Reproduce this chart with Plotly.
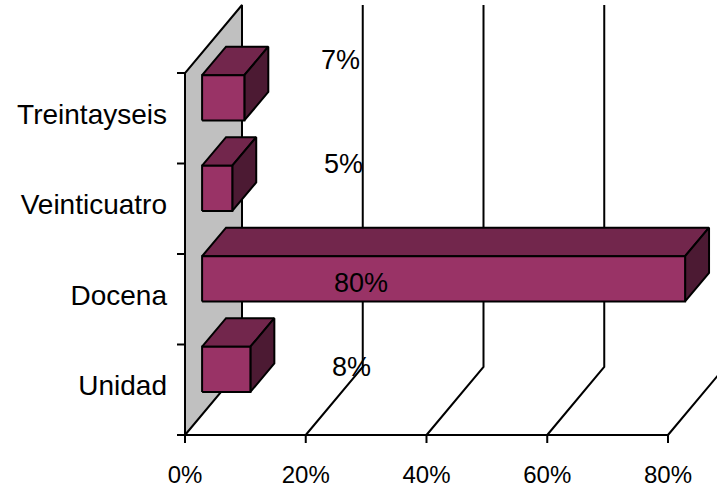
import plotly.graph_objects as go

# ---------------- data ----------------
categories = ["Unidad", "Docena", "Veinticuatro", "Treintayseis"]
values = [8, 80, 5, 7]
value_labels = ["8%", "80%", "5%", "7%"]
x_ticks = [0, 20, 40, 60, 80]
x_tick_labels = ["0%", "20%", "40%", "60%", "80%"]

# label anchor positions (x in %, y in category units)
label_x = [27.5, 29.1, 26.3, 25.8]
label_y = [0.75, 1.68, 3.0, 4.14]

# ---------------- geometry / styles ----------------
W, H = 717, 490
SX = 6.0375      # px per percent
SY = 90.5        # px per category
PAD = 15         # px around the front axes
X0_PX, Y0_PX = 185, 435
DX = 57 / SX     # depth projection in x units
DY = 68 / SY     # depth projection in y units
F1, F2 = 0.30, 0.72   # bar depth fractions
HALF = 0.25           # half bar thickness (category units)

FRONT = "#993366"
TOP = "#72264c"
SIDE = "#4c1a33"
FONT = "Liberation Sans, Arial, sans-serif"
LW = 2

n = len(categories)
fig = go.Figure()

# side wall
fig.add_trace(go.Scatter(
    x=[0, 0, DX, DX, 0], y=[0, n, n + DY, DY, 0], mode="lines",
    fill="toself", fillcolor="#c0c0c0", line=dict(color="black", width=LW),
    hoverinfo="skip", showlegend=False))

# gridlines (floor diagonal + back vertical)
gx, gy = [], []
for v in x_ticks[1:]:
    gx += [v, v + DX, v + DX, None]
    gy += [0, DY, n + DY, None]
fig.add_trace(go.Scatter(x=gx, y=gy, mode="lines",
                         line=dict(color="black", width=LW),
                         hoverinfo="skip", showlegend=False))

# front axes with tick marks
ax, ay = [0, x_ticks[-1], None, 0, 0, None], [0, 0, None, 0, n, None]
for v in x_ticks:
    ax += [v, v, None]
    ay += [0, -8 / SY, None]
for i in range(n + 1):
    ax += [0, -8 / SX, None]
    ay += [i, i, None]
fig.add_trace(go.Scatter(x=ax, y=ay, mode="lines",
                         line=dict(color="black", width=LW),
                         hoverinfo="skip", showlegend=False))

# 3D bars
for i, v in enumerate(values):
    c = i + 0.5
    b, t = c - HALF, c + HALF
    x1, y1 = F1 * DX, F1 * DY
    x2, y2 = F2 * DX, F2 * DY
    # top face
    fig.add_trace(go.Scatter(
        x=[x1, v + x1, v + x2, x2, x1],
        y=[t + y1, t + y1, t + y2, t + y2, t + y1],
        mode="lines", fill="toself", fillcolor=TOP,
        line=dict(color="black", width=LW), hoverinfo="skip", showlegend=False))
    # side face
    fig.add_trace(go.Scatter(
        x=[v + x1, v + x1, v + x2, v + x2, v + x1],
        y=[b + y1, t + y1, t + y2, b + y2, b + y1],
        mode="lines", fill="toself", fillcolor=SIDE,
        line=dict(color="black", width=LW), hoverinfo="skip", showlegend=False))
    # front face
    fig.add_trace(go.Scatter(
        x=[x1, v + x1, v + x1, x1, x1],
        y=[b + y1, b + y1, t + y1, t + y1, b + y1],
        mode="lines", fill="toself", fillcolor=FRONT,
        line=dict(color="black", width=LW), hoverinfo="skip", showlegend=False))

# value labels
for lx, ly, txt in zip(label_x, label_y, value_labels):
    fig.add_annotation(x=lx, y=ly, xref="x", yref="y", text=txt, showarrow=False,
                       xanchor="center", yanchor="middle",
                       font=dict(family=FONT, size=27, color="black"))

plot_w = W - (X0_PX - PAD)
fig.update_layout(
    width=W, height=H,
    margin=dict(l=X0_PX - PAD, r=0, t=0, b=H - Y0_PX - PAD, pad=0),
    paper_bgcolor="white", plot_bgcolor="white",
    showlegend=False,
    xaxis=dict(range=[-PAD / SX, (plot_w - PAD) / SX], showgrid=False, zeroline=False,
               showline=False, ticks="", tickvals=x_ticks, ticktext=x_tick_labels,
               tickfont=dict(family=FONT, size=24, color="black"),
               ticklabelstandoff=8, automargin=False, fixedrange=True),
    yaxis=dict(range=[-PAD / SY, Y0_PX / SY], showgrid=False, zeroline=False,
               showline=False, ticks="", tickvals=[i + 0.55 for i in range(n)],
               ticktext=categories,
               tickfont=dict(family=FONT, size=28, color="black"),
               ticklabelstandoff=2, automargin=False, fixedrange=True),
)

fig.write_html("out.html")
